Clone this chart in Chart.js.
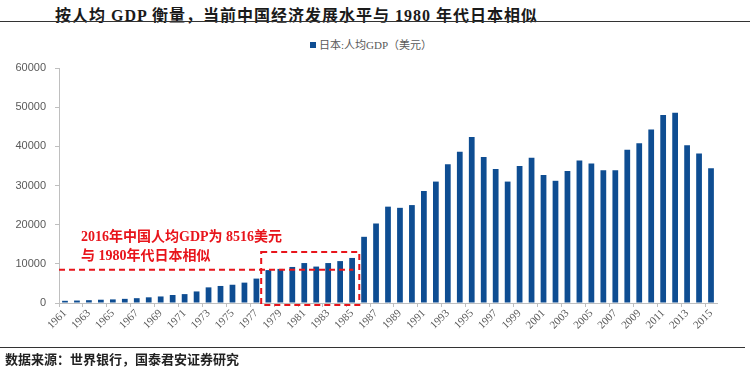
<!DOCTYPE html>
<html>
<head>
<meta charset="utf-8">
<script src="https://cdn.jsdelivr.net/npm/chart.js@4"></script>
<style>
  body { margin: 0; width: 750px; height: 371px; position: relative; background: #fff; overflow: hidden; }
  #chart { position: absolute; left: 0; top: 0; }
  .title { position: absolute; left: 55px; top: 2px; font: bold 16px "Liberation Serif", "Noto Sans CJK SC"; letter-spacing: 1px; color: #1a1a1a; white-space: nowrap; }
  .rule { position: absolute; left: 0; height: 0; border-top: 1.5px solid #333; }
  .legend { position: absolute; left: 310px; top: 36px; font: 11px "Liberation Serif", "Noto Sans CJK SC"; color: #595959; white-space: nowrap; }
  .legend i { display: inline-block; width: 6px; height: 6px; background: #0E4D92; margin-right: 3px; vertical-align: 1px; }
  .source { position: absolute; left: 5px; top: 349px; font: bold 13px "Liberation Serif", "Noto Sans CJK SC"; color: #222; white-space: nowrap; }
</style>
</head>
<body>
<div class="title">按人均 GDP 衡量，当前中国经济发展水平与 1980 年代日本相似</div>
<div class="rule" style="top:21px; width:750px;"></div>
<div class="legend"><i></i>日本:人均GDP（美元）</div>
<canvas id="chart" width="750" height="371"></canvas>
<div class="rule" style="top:347px; width:745px;"></div>
<div class="source">数据来源：世界银行，国泰君安证券研究</div>
<script>
const years = [];
for (let y = 1961; y <= 2015; y++) years.push(String(y));

// 日本人均GDP（美元），读图估计
const gdpPerCapita = [
  560, 630, 720, 840, 920, 1060, 1230, 1450, 1670, 2040,
  2270, 2950, 3990, 4350, 4660, 5200, 6230, 8400, 8700, 9200,
  10200, 9300, 10200, 10700, 11500, 16900, 20300, 24600, 24300, 25000,
  28600, 31000, 35400, 38600, 42400, 37300, 34200, 31000, 35000, 37100,
  32700, 31200, 33700, 36400, 35600, 33900, 33900, 39100, 40800, 44300,
  48000, 48600, 40300, 38200, 34400
];

const yTicks = [0, 10000, 20000, 30000, 40000, 50000, 60000];

const chinaGdp2016 = 8516;
const boxFrom = '1978', boxTo = '1985';
const noteLines = ['2016年中国人均GDP为 8516美元', '与 1980年代日本相似'];

const noteColor = '#E8141B';

const annotate = {
  id: 'annotate',
  afterDatasetsDraw(chart) {
    const { ctx, scales: { x, y } } = chart;
    const step = x.getPixelForValue(1) - x.getPixelForValue(0);
    ctx.save();
    ctx.strokeStyle = noteColor;
    ctx.lineWidth = 2;
    ctx.setLineDash([6, 4]);

    // 8516 horizontal line
    const ly = y.getPixelForValue(chinaGdp2016);
    ctx.beginPath();
    ctx.moveTo(x.left, ly);
    ctx.lineTo(x.getPixelForValue(years.indexOf(boxTo)) + step * 0.1, ly);
    ctx.stroke();

    // box around the 1980s
    const bx0 = x.getPixelForValue(years.indexOf(boxFrom)) - step * 0.6;
    const bx1 = x.getPixelForValue(years.indexOf(boxTo)) + step * 0.6;
    const by0 = y.getPixelForValue(13000);
    const by1 = y.bottom + 2;
    ctx.strokeRect(bx0, by0, bx1 - bx0, by1 - by0);

    ctx.setLineDash([]);
    ctx.fillStyle = noteColor;
    ctx.font = 'bold 14px "Liberation Serif", "Noto Sans CJK SC"';
    ctx.textBaseline = 'middle';
    ctx.fillText(noteLines[0], x.left + 22, y.getPixelForValue(16800));
    ctx.fillText(noteLines[1], x.left + 22, y.getPixelForValue(12000));
    ctx.restore();
  }
};

const axisGrey = '#BFBFBF';

new Chart(document.getElementById('chart'), {
  type: 'bar',
  data: {
    labels: years,
    datasets: [{
      label: '日本:人均GDP（美元）',
      data: gdpPerCapita,
      backgroundColor: '#0E4D92',
      barPercentage: 0.48,
      categoryPercentage: 1
    }]
  },
  options: {
    responsive: false,
    animation: false,
    layout: { padding: { left: 0, right: 33, top: 68, bottom: 0 } },
    plugins: { legend: { display: false }, tooltip: { enabled: false } },
    scales: {
      x: {
        afterFit: s => { s.height = 371 - 303; },
        grid: {
          drawOnChartArea: false,
          tickLength: 4,
          color: c => (c.index % 2 === 0 ? axisGrey : 'rgba(0,0,0,0)')
        },
        border: { color: axisGrey },
        ticks: {
          autoSkip: false,
          minRotation: 45,
          maxRotation: 45,
          padding: 0,
          color: '#595959',
          font: { family: '"Liberation Serif"', size: 11 },
          callback: (v, i) => (i % 2 === 0 ? years[i] : '')
        }
      },
      y: {
        min: 0,
        max: 60000,
        afterFit: s => { s.width = 59; },
        afterBuildTicks: s => { s.ticks = yTicks.map(v => ({ value: v })); },
        grid: { drawOnChartArea: false, tickLength: 4, color: axisGrey },
        border: { color: axisGrey },
        ticks: {
          padding: 9,
          color: '#595959',
          font: { family: '"Liberation Sans"', size: 11 },
          callback: v => String(v)
        }
      }
    }
  },
  plugins: [annotate]
});
</script>
</body>
</html>
